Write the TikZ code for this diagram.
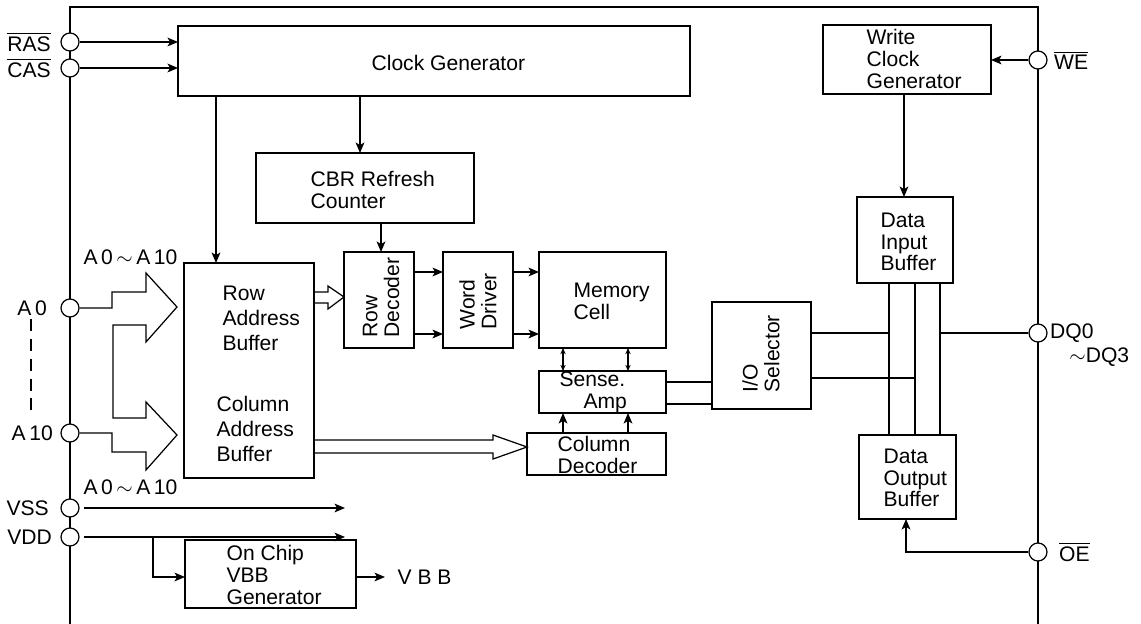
\documentclass[tikz,border=0pt]{standalone}
\usepackage{fontspec}
\setmainfont{Liberation Sans}
\usetikzlibrary{arrows.meta,positioning,fit,calc}
\tikzset{
	dram/.style={x=0.02cm, y=-0.02cm, line width=0.7pt,
		>={Stealth[length=6pt,width=5pt,inset=1.5pt]}},
	blk/.style={draw, inner sep=0pt, outer sep=0pt},
	txt/.style={font=\fontsize{12}{12.4}\selectfont, align=left, inner sep=0pt},
	txtwide/.style={txt, font=\fontsize{12}{14.2}\selectfont},
	pinlbl/.style={font=\fontsize{12}{12.4}\selectfont, inner sep=0pt},
	pin/.style={circle, draw, fill=white, minimum size=0.36cm, inner sep=0pt},
	arr/.style={->},
	darr/.style={{Stealth[length=3.5pt,width=3pt]}-{Stealth[length=3.5pt,width=3pt]}},
	hollow/.style={draw, line join=miter},
}
\newcommand{\ovl}[1]{$\overline{\mbox{#1}}$}

\begin{document}
\begin{tikzpicture}[dram]
  \useasboundingbox (0,0) rectangle (1141,624);
  % package outline (open at the bottom)
  \draw (70,624) -- (70,7) -- (1038,7) -- (1038,624);

  % blocks
  \node[blk, fit={(178,26) (690,96)}] (clk) {};
  \node[blk, fit={(256,153) (474,223)}] (cbr) {};
  \node[blk, fit={(184,263) (314,478)}] (adb) {};
  \node[blk, fit={(344,252) (414,348)}] (rdec) {};
  \node[blk, fit={(443,252) (513,348)}] (wdrv) {};
  \node[blk, fit={(539,252) (666,348)}] (cell) {};
  \node[blk, fit={(539,371) (666,413)}] (samp) {};
  \node[blk, fit={(527,433) (666,475)}] (cdec) {};
  \node[blk, fit={(712,302) (811,409)}] (iosel) {};
  \node[blk, fit={(857,197) (953,283)}] (dib) {};
  \node[blk, fit={(859,435) (956,519)}] (dob) {};
  \node[blk, fit={(823,25) (991,94)}] (wclk) {};
  \node[blk, fit={(185,540) (356,608)}] (vbb) {};

  \node[txt, anchor=west] (clktxt) at (371,63) {Clock Generator};
  \node[txt, anchor=west] (cbrtxt) at (310,190) {CBR Refresh\\Counter};
  \node[txtwide, anchor=west] (rabtxt) at (222,318) {Row\\Address\\Buffer};
  \node[txtwide, anchor=west] (cabtxt) at (216,429) {Column\\Address\\Buffer};
  \node[txt, rotate=90, anchor=west] (rdectxt) at (381,338) {Row\\Decoder};
  \node[txt, rotate=90, anchor=west] (wdrvtxt) at (478,330) {Word\\Driver};
  \node[txt, anchor=west] (celltxt) at (573,301) {Memory\\Cell};
  \node[txt, anchor=west] (samptxt) at (559,392) {Sense.\\\hspace*{0.48cm}Amp};
  \node[txt, anchor=west] (cdectxt) at (557,455) {Column\\Decoder};
  \node[txt, rotate=90, anchor=west] (ioseltxt) at (761,393) {I/O\\Selector};
  \node[txt, anchor=west] (dibtxt) at (880,242) {Data\\Input\\Buffer};
  \node[txt, anchor=west] (dobtxt) at (883,478) {Data\\Output\\Buffer};
  \node[txt, anchor=west] (wclktxt) at (866,59) {Write\\Clock\\Generator};
  \node[txt, anchor=west] (vbbtxt) at (226,575) {On Chip\\VBB\\Generator};

  % pins
  \node[pin] (ras) at (70,42) {};
  \node[pin] (cas) at (70,68) {};
  \node[pin] (a0) at (70,308) {};
  \node[pin] (a10) at (70,433) {};
  \node[pin] (vss) at (70,508) {};
  \node[pin] (vdd) at (70,537) {};
  \node[pin] (we) at (1038,60) {};
  \node[pin] (dq) at (1038,333) {};
  \node[pin] (oe) at (1038,552) {};

  \path
        node[pinlbl, left=0.18cm of ras] (raslbl) {\ovl{RAS}}
        node[pinlbl, left=0.18cm of cas] (caslbl) {\ovl{CAS}}
        node[pinlbl, left=0.26cm of a0] (a0lbl) {A\,0}
        node[pinlbl, left=0.14cm of a10] (a10lbl) {A\,10}
        node[pinlbl, left=0.22cm of vss] (vsslbl) {VSS}
        node[pinlbl, left=0.16cm of vdd] (vddlbl) {VDD}
        node[pinlbl, right=0.12cm of we] (welbl) {\ovl{WE}}
        node[pinlbl, right=0.04cm of dq] (dqlbl) {DQ0}
        node[pinlbl, below right=0.15cm and 0.48cm of dq] (dq3lbl) {$\sim$DQ3}
        node[pinlbl, right=0.22cm of oe] (oelbl) {\ovl{OE}}
        node[pinlbl, anchor=west] (adrtop) at (83,257) {A\,0\,$\sim$\,A\,10}
        node[pinlbl, anchor=west] (adrbot) at (83,487) {A\,0\,$\sim$\,A\,10};
  \draw[dash pattern=on 6.8pt off 4.5pt] (31,319) -- (31,417);

  % address bus into the buffer
  \draw[hollow] (a0) -- (112,308) -- (112,292) -- (146,292) -- (146,273) -- (177,307)
    -- (146,342) -- (146,325) -- (113,325) -- (113,418) -- (146,418) -- (146,402)
    -- (177,435) -- (146,470) -- (146,452) -- (112,452) -- (112,433) -- (a10);
  \draw[hollow] (314,292) -- (328,292) -- (328,286) -- (344,297) -- (328,309) -- (328,303) -- (314,303);
  \draw[hollow] (314,440) -- (493,440) -- (493,435) -- (527,447) -- (493,459) -- (493,453) -- (314,453);

  % control
  \draw[arr] (ras) -- (ras -| clk.west);
  \draw[arr] (cas) -- (cas -| clk.west);
  \draw[arr] (216,0 |- clk.south) -- (216,0 |- adb.north);
  \draw[arr] (360,0 |- clk.south) -- (360,0 |- cbr.north);
  \draw[arr] (381,0 |- cbr.south) -- (381,0 |- rdec.north);
  \draw[arr] (we) -- (we -| wclk.east);
  \draw[arr] (904,0 |- wclk.south) -- (904,0 |- dib.north);
  \draw[arr] (oe) -| (906,0 |- dob.south);

  % array path
  \foreach \y in {272,334} {
    \draw[arr] (rdec.east |- 0,\y) -- (wdrv.west |- 0,\y);
    \draw[arr] (wdrv.east |- 0,\y) -- (cell.west |- 0,\y);
  }
  \foreach \x in {563,628} {
    \draw[darr] (\x,0 |- cell.south) -- (\x,0 |- samp.north);
    \draw[arr] (\x,0 |- cdec.north) -- (\x,0 |- samp.south);
  }
  \foreach \y in {382,404}
    \draw (samp.east |- 0,\y) -- (iosel.west |- 0,\y);

  % data bus
  \foreach \x in {889,915,940}
    \draw (\x,0 |- dib.south) -- (\x,0 |- dob.north);
  \draw (iosel.east |- 0,333) -- (889,333);
  \draw (iosel.east |- 0,378) -- (915,378);
  \draw (940,333) -- (dq);

  % supply
  \draw[arr, shorten <=0.08cm] (vss) -- (345,0 |- vss);
  \draw[arr, shorten <=0.08cm] (vdd) -- (345,0 |- vdd);
  \draw[arr] (153,0 |- vdd) |- (vbb.west |- 0,577);
  \draw[arr] (vbb.east |- 0,577) -- (385,577) coordinate (vbbout);
  \node[pinlbl, right=0.24cm of vbbout] (vbblbl) {V B B};
\end{tikzpicture}
\end{document}
